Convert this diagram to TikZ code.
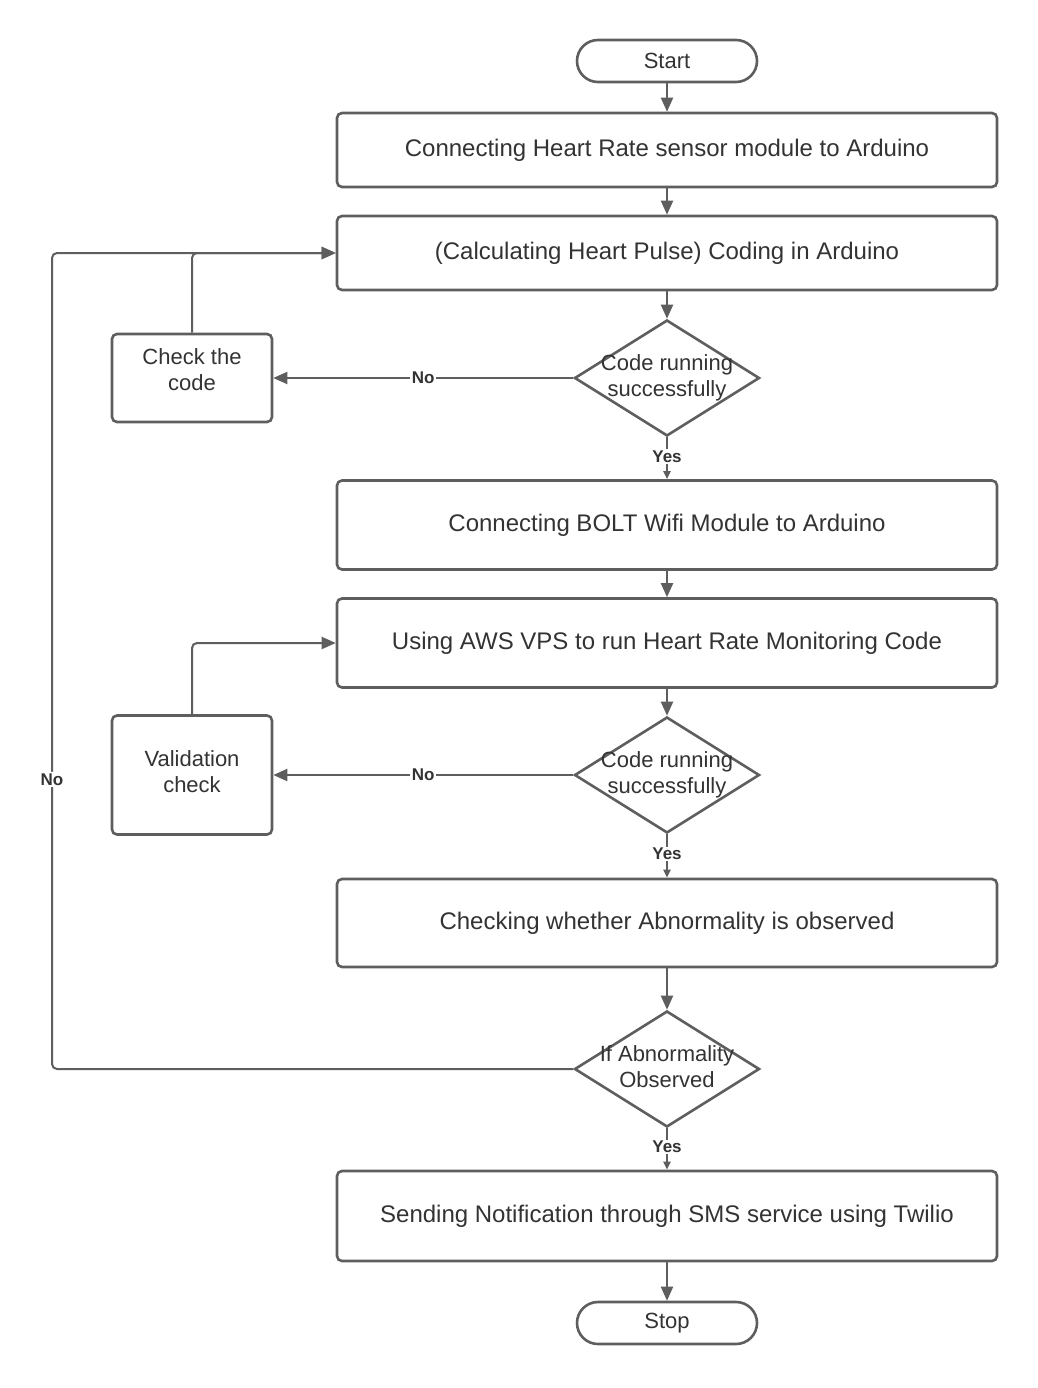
\documentclass[tikz,border=0pt]{standalone}
\usepackage{fontspec}
\setmainfont{Liberation Sans}
\usetikzlibrary{shapes.geometric,arrows.meta}
\definecolor{ln}{HTML}{5E5E5E}
\definecolor{tx}{HTML}{333333}
\begin{document}
\begin{tikzpicture}[x=1pt,y=-1pt,
  every node/.style={text=tx, font=\fontsize{22}{26}\selectfont},
  proc/.style={draw=ln, line width=2.6pt, rounded corners=5pt, minimum width=660pt, minimum height=#1, inner sep=0pt, align=center, font=\fontsize{24}{28}\selectfont},
  proc/.default=74pt,
  side/.style={draw=ln, line width=2.6pt, rounded corners=5pt, minimum width=160pt, minimum height=#1, inner sep=0pt},
  term/.style={draw=ln, line width=2.6pt, rounded corners=21pt, minimum width=180pt, minimum height=42pt, inner sep=0pt},
  dia/.style={draw=ln, line width=2.6pt, diamond, minimum width=185pt, minimum height=116pt, inner sep=0pt},
  dtext/.style={align=center, inner sep=0pt},
  conn/.style={draw=ln, line width=2pt},
  arr/.style={conn, -{Triangle[length=14pt,width=12pt]}},
  arrs/.style={conn, -{Triangle[length=8pt,width=7pt]}},
  lbl/.style={fill=white, inner sep=1.5pt, font=\bfseries\fontsize{17}{19}\selectfont}
]
\fill[white] (0,0) rectangle (1037,1388);
\useasboundingbox (0,0) rectangle (1037,1388);

\node[term] (start) at (667,61) {Start};
\node[proc] (b1) at (667,150) {\raisebox{3pt}{Connecting Heart Rate sensor module to Arduino}};
\node[proc] (b2) at (667,253) {\raisebox{3pt}{(Calculating Heart Pulse) Coding in Arduino}};
\node[dia] (d1) at (667,378) {};
\node[dtext] at (d1) {Code running\\successfully};
\node[side=88pt] (cc) at (192,378) {};
\node[dtext] at ([yshift=8pt]cc.center) {Check the\\code};
\node[proc=89pt] (b3) at (667,525) {Connecting BOLT Wifi Module to Arduino};
\node[proc=89pt] (b4) at (667,643) {Using AWS VPS to run Heart Rate Monitoring Code};
\node[dia] (d2) at (667,775) {};
\node[dtext] at (d2) {Code running\\successfully};
\node[side=119pt] (vc) at (192,775) {};
\node[dtext] at ([yshift=3pt]vc.center) {Validation\\check};
\node[proc=88pt] (b5) at (667,923) {Checking whether Abnormality is observed};
\node[dia] (d3) at (667,1069) {};
\node[dtext] at ([yshift=2pt]d3.center) {If Abnormality\\Observed};
\node[proc=90pt] (b6) at (667,1216) {Sending Notification through SMS service using Twilio};
\node[term] (stop) at (667,1323) {Stop};

\draw[arr] (start) -- (b1);
\draw[arr] (b1) -- (b2);
\draw[arr] (b2) -- (d1);
\draw[arr] (d1.west) -- node[lbl]{No} (cc.east);
\draw[arr, rounded corners=5pt] (cc.north) -- (192,253) -- (b2.west);
\draw[arrs] (d1.south) -- node[lbl, yshift=2pt]{Yes} (b3.north);
\draw[arr] (b3) -- (b4);
\draw[arr] (b4) -- (d2);
\draw[arr] (d2.west) -- node[lbl]{No} (vc.east);
\draw[arr, rounded corners=5pt] (vc.north) -- (192,643) -- (b4.west);
\draw[arrs] (d2.south) -- node[lbl, yshift=2pt]{Yes} (b5.north);
\draw[arr] (b5) -- (d3);
\draw[arr, rounded corners=5pt] (d3.west) -- (52,1069) -- node[lbl, pos=0.355]{No} (52,253) -- (b2.west);
\draw[arrs] (d3.south) -- node[lbl, yshift=2pt]{Yes} (b6.north);
\draw[arr] (b6) -- (stop);
\end{tikzpicture}
\end{document}
